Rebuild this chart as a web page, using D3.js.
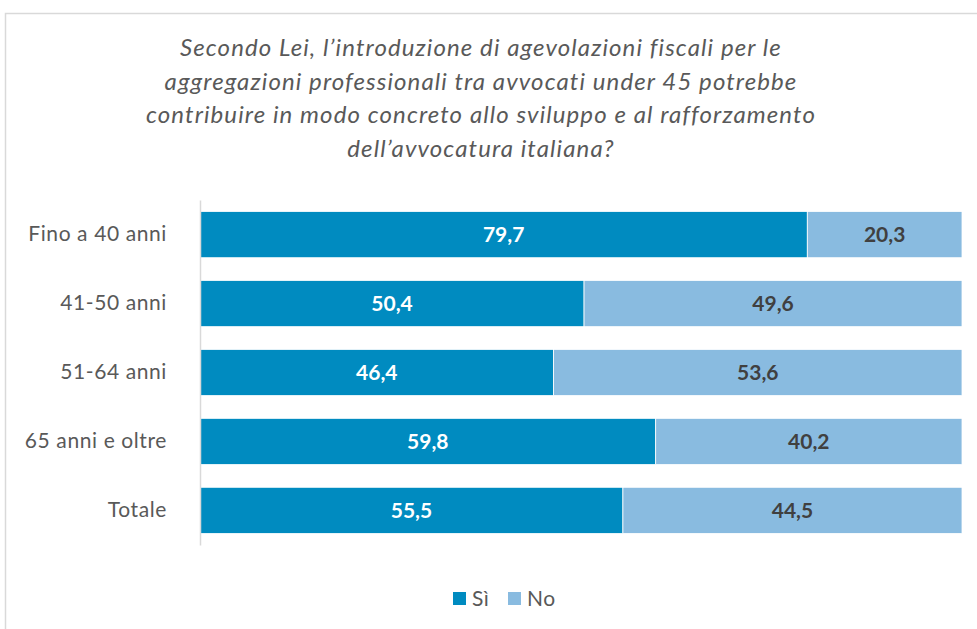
<!DOCTYPE html>
<html>
<head>
<meta charset="utf-8">
<script src="https://cdn.jsdelivr.net/npm/d3@7"></script>
<style>
  body { margin: 0; background: #fff; }
  svg { display: block; font-family: Lato, "Open Sans", sans-serif; }
  .title { font-style: italic; font-size: 24px; fill: #595959; letter-spacing: 1.1px; }
  .axis text { fill: #595959; letter-spacing: 0.6px; }
  .val { font-size: 21px; font-weight: bold; }
  .legend text { font-size: 21px; fill: #595959; letter-spacing: 0.5px; }
</style>
</head>
<body>
<svg width="977" height="629"></svg>
<script>
const categories = ['Fino a 40 anni', '41-50 anni', '51-64 anni', '65 anni e oltre', 'Totale'];
const si = [79.7, 50.4, 46.4, 59.8, 55.5];
const no = [20.3, 49.6, 53.6, 40.2, 44.5];
const seriesNames = ['Sì', 'No'];
const titleLines = [
  'Secondo Lei, l\u2019introduzione di agevolazioni fiscali per le',
  'aggregazioni professionali tra avvocati under 45 potrebbe',
  'contribuire in modo concreto allo sviluppo e al rafforzamento',
  'dell\u2019avvocatura italiana?'
];

const colors = ['#008bc0', '#89bbe0'];
const textColors = ['#ffffff', '#404040'];

const svg = d3.select('svg');

// frame
svg.append('rect')
  .attr('x', 5.5).attr('y', 13.5)
  .attr('width', 1000).attr('height', 700)
  .attr('fill', 'none')
  .attr('stroke', '#d9d9d9')
  .attr('stroke-width', 1.5);

// title
svg.append('text')
  .attr('class', 'title')
  .attr('text-anchor', 'middle')
  .selectAll('tspan')
  .data(titleLines)
  .enter()
  .append('tspan')
  .attr('x', 481)
  .attr('y', (d, i) => 56 + i * 33.5)
  .text(d => d);

const xScale = d3.scaleLinear()
  .domain([0, 100])
  .range([200, 962]);

const yScale = d3.scaleBand()
  .domain(categories)
  .range([200, 545])
  .paddingInner(0.33)
  .paddingOuter(0.167);

const rows = categories.map((c, i) => ({ cat: c, parts: [si[i], no[i]] }));

const rowGroups = svg.selectAll('.row')
  .data(rows)
  .enter()
  .append('g')
  .attr('class', 'row');

rowGroups.each(function (r) {
  let start = 0;
  const g = d3.select(this);
  r.parts.forEach((v, k) => {
    g.append('rect')
      .attr('x', xScale(start))
      .attr('y', yScale(r.cat))
      .attr('width', xScale(start + v) - xScale(start))
      .attr('height', yScale.bandwidth())
      .attr('fill', colors[k])
      .attr('stroke', '#fff')
      .attr('stroke-width', 0.8);

    g.append('text')
      .attr('class', 'val')
      .attr('x', (xScale(start) + xScale(start + v)) / 2)
      .attr('y', yScale(r.cat) + yScale.bandwidth() / 2)
      .attr('dy', '0.36em')
      .attr('text-anchor', 'middle')
      .attr('fill', textColors[k])
      .text(v.toFixed(1).replace('.', ','));
    start += v;
  });
});

// y axis
svg.append('g')
  .attr('class', 'axis')
  .attr('transform', `translate(${xScale(0)}, 0)`)
  .call(d3.axisLeft(yScale).tickSize(0).tickSizeOuter(0).tickPadding(33))
  .call(g => g.selectAll('text').attr('font-family', 'Lato, sans-serif').attr('font-size', 21))
  .call(g => g.select('.domain').attr('stroke', '#d9d9d9').attr('stroke-width', 1.5));

// legend
const legend = svg.append('g').attr('class', 'legend');
const legX = [453, 508];
seriesNames.forEach((name, k) => {
  legend.append('rect')
    .attr('x', legX[k]).attr('y', 592)
    .attr('width', 13).attr('height', 13)
    .attr('fill', colors[k]);
  legend.append('text')
    .attr('x', legX[k] + 19)
    .attr('y', 598)
    .attr('dy', '0.36em')
    .text(name);
});
</script>
</body>
</html>
